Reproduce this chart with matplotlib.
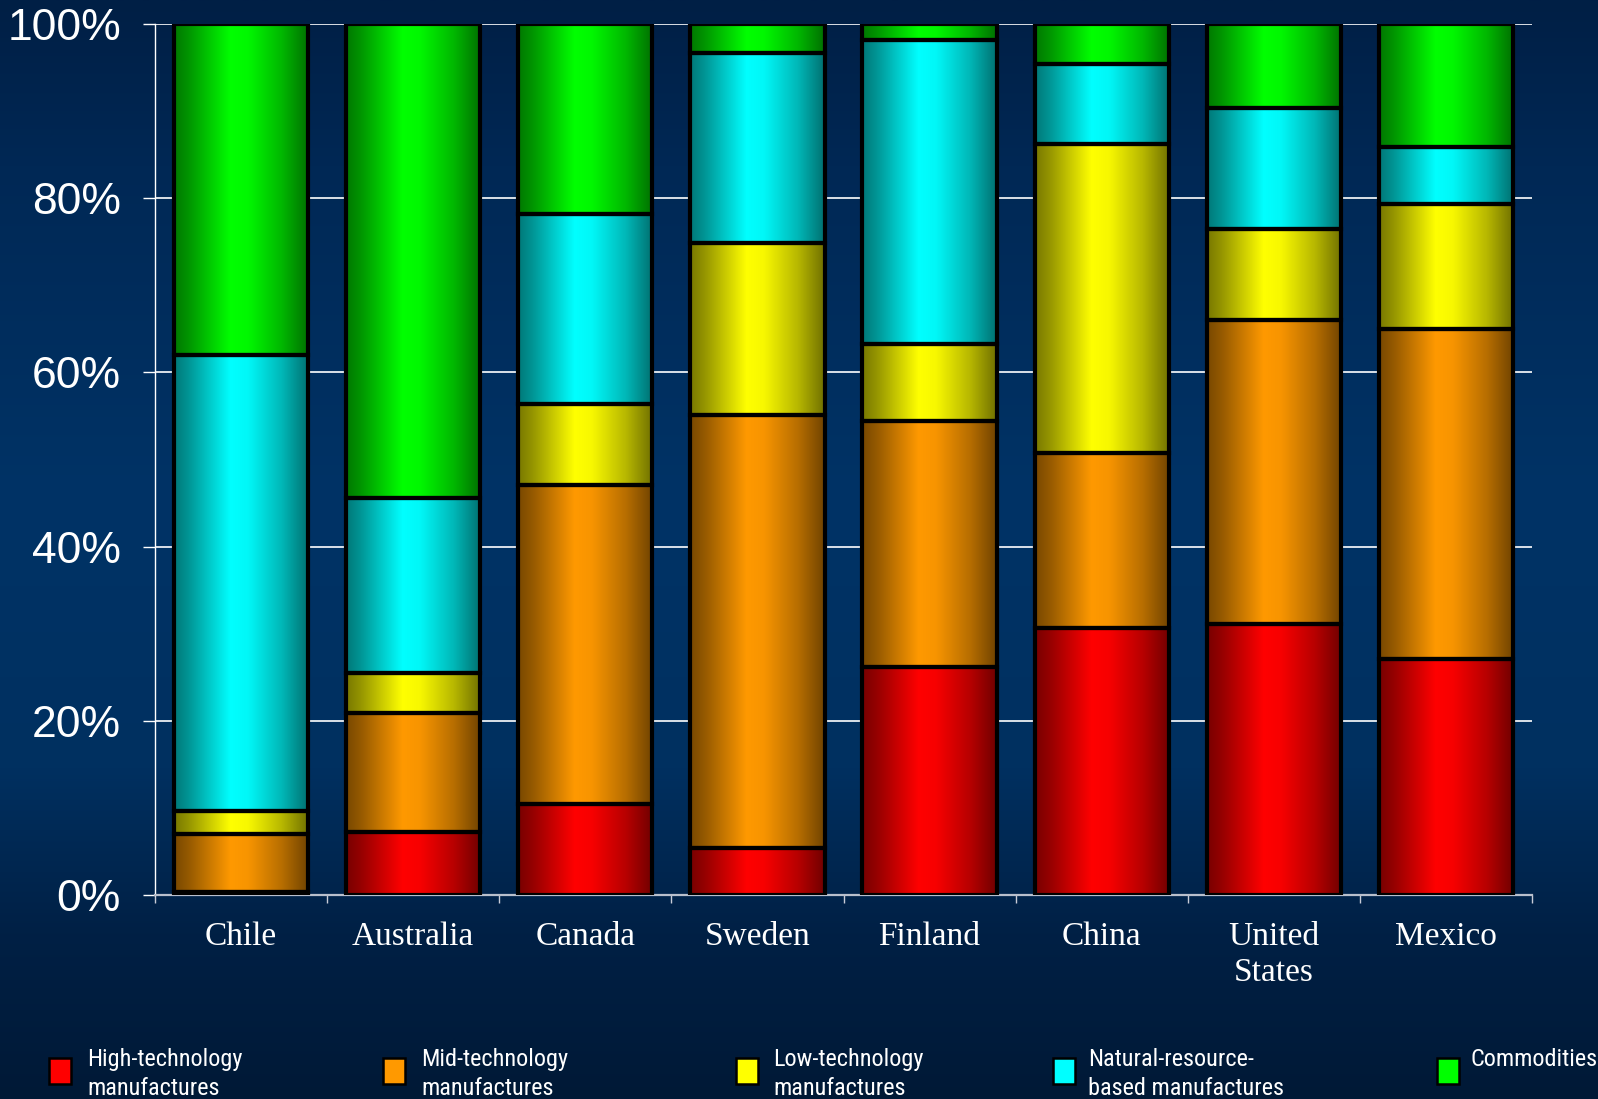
import numpy as np
import matplotlib
matplotlib.use("Agg")
import matplotlib.pyplot as plt
from matplotlib import font_manager
from matplotlib.patches import Rectangle
from matplotlib.colors import to_rgb

# Export structure by technology content, share of total (%)
countries = ["Chile", "Australia", "Canada", "Sweden", "Finland", "China",
             "United\nStates", "Mexico"]
high_tech = [0.4, 7.2, 10.5, 5.4, 26.2, 30.6, 31.1, 27.1]
mid_tech = [6.6, 13.7, 36.6, 49.7, 28.2, 20.2, 34.9, 37.9]
low_tech = [2.7, 4.6, 9.3, 19.8, 8.9, 35.4, 10.5, 14.3]
nat_resource = [52.3, 20.1, 21.8, 21.8, 34.9, 9.2, 13.8, 6.6]
commodities = [38.0, 54.4, 21.8, 3.3, 1.8, 4.6, 9.7, 14.1]

series_names = ["High-technology\nmanufactures", "Mid-technology\nmanufactures",
                "Low-technology\nmanufactures", "Natural-resource-\nbased manufactures",
                "Commodities"]
series_values = [high_tech, mid_tech, low_tech, nat_resource, commodities]
series_colors = ["#FF0000", "#FF9900", "#FFFF00", "#00FFFF", "#00FF00"]
y_ticks = [0, 20, 40, 60, 80, 100]

available = {f.name for f in font_manager.fontManager.ttflist}
sans = "Liberation Sans" if "Liberation Sans" in available else "DejaVu Sans"
serif = "Liberation Serif" if "Liberation Serif" in available else "DejaVu Serif"
narrow = None
for cand in ["Liberation Sans Narrow", "Roboto Condensed", "Open Sans Condensed",
             "DejaVu Sans Condensed"]:
    if cand in available:
        narrow = cand
        break
if narrow is None:
    legend_font, legend_size = sans, 15.5
else:
    legend_font, legend_size = narrow, 17.5

W, H = 1598, 1099
fig = plt.figure(figsize=(W / 100, H / 100), dpi=100)

# navy backdrop, lighter in the middle
bg = fig.add_axes([0, 0, 1, 1], zorder=-10)
bg.axis("off")
stops_y = np.array([0.0, 0.15, 0.45, 0.7, 0.85, 1.0])          # from top
stops_c = np.array([[0x00, 0x1f, 0x45], [0x00, 0x28, 0x55], [0x00, 0x33, 0x66],
                    [0x00, 0x30, 0x60], [0x00, 0x20, 0x45], [0x00, 0x19, 0x36]]) / 255
yy = np.linspace(0, 1, 400)
grad = np.stack([np.interp(yy, stops_y, stops_c[:, k]) for k in range(3)], axis=1)
bg.imshow(grad[:, None, :], aspect="auto", extent=[0, 1, 0, 1], interpolation="bilinear")
bg.set_xlim(0, 1)
bg.set_ylim(0, 1)

left, right, top, bottom_px = 155, 1532, 24, 895
ax = fig.add_axes([left / W, 1 - bottom_px / H, (right - left) / W, (bottom_px - top) / H])
ax.patch.set_alpha(0)

x = np.arange(len(countries))
bar_w = 0.78

# horizontal shading profile of each bar
prof_x = [0.0, 0.12, 0.42, 0.55, 0.8, 1.0]
prof_v = [0.47, 0.6, 1.0, 0.97, 0.72, 0.44]
px = np.linspace(0, 1, 200)
shade = np.interp(px, prof_x, prof_v)

base = np.zeros(len(countries))
for vals, color in zip(series_values, series_colors):
    vals = np.asarray(vals, dtype=float)
    bars = ax.bar(x, vals, bar_w, bottom=base, color=color, edgecolor="black",
                  linewidth=3.0, zorder=3)
    rgb = np.array(to_rgb(color))
    img = (shade[:, None] * rgb[None, :])[None, :, :]
    for p in bars:
        x0, y0 = p.get_x(), p.get_y()
        im = ax.imshow(img, extent=[x0, x0 + p.get_width(), y0, y0 + p.get_height()],
                       aspect="auto", interpolation="bilinear", zorder=3.5)
        im.set_clip_path(p)
        p.set_facecolor("none")
        p.set_zorder(4)
    base += vals

ax.set_xlim(-0.5, len(countries) - 0.5)
ax.set_ylim(0, 100)

# grid and axes
ax.set_yticks(y_ticks)
ax.set_yticklabels([f"{v}%" for v in y_ticks], fontfamily=sans, fontsize=32, color="white")
ax.yaxis.grid(True, color="white", linewidth=1.2, zorder=1)
ax.set_axisbelow(True)
ax.tick_params(axis="y", direction="out", length=8.5, width=1.0, color="white", pad=16)

ax.set_xticks(x)
ax.set_xticklabels(countries, fontfamily=serif, fontsize=24, color="white", linespacing=1.22)
ax.set_xticks(np.arange(len(countries) + 1) - 0.5, minor=True)
ax.tick_params(axis="x", which="major", length=0, pad=19)
ax.tick_params(axis="x", which="minor", direction="out", length=6, width=1.0, color="#c8ccd8")

for s in ["top", "right"]:
    ax.spines[s].set_visible(False)
ax.spines["left"].set_color("white")
ax.spines["left"].set_linewidth(1.0)
ax.spines["bottom"].set_color("#b8bfcc")
ax.spines["bottom"].set_linewidth(1.6)

# legend row along the bottom
marker_x = [49, 383, 736, 1053, 1437]
text_x = [87, 421, 773, 1088, 1471]
for mx, tx, name, color in zip(marker_x, text_x, series_names, series_colors):
    fig.patches.append(Rectangle((mx / W, 1 - 1084 / H), 22 / W, 26 / H,
                                 transform=fig.transFigure, facecolor=color,
                                 edgecolor="black", linewidth=1.8))
    fig.text(tx / W, 1 - 1048 / H, name, fontfamily=legend_font, fontsize=legend_size,
             color="white", ha="left", va="top", linespacing=1.35)

fig.savefig("out.png", dpi=100)
